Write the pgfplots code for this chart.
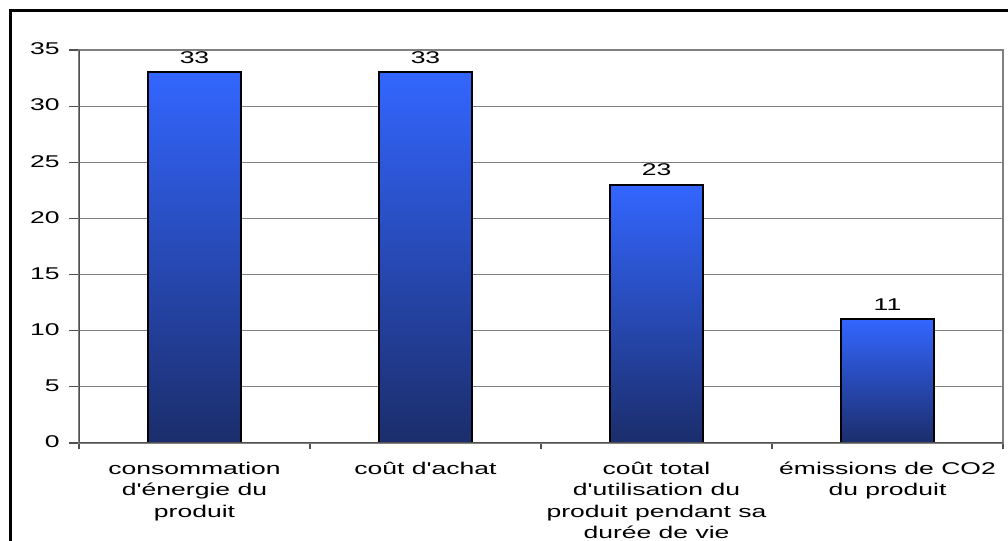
\documentclass[border=0pt]{standalone}
\usepackage{fontspec}
\setmainfont{Liberation Sans}[FakeStretch=1.56,Ligatures=TeXOff]
\usepackage{pgfplots}
\pgfplotsset{compat=1.18}
\definecolor{barTop}{HTML}{3366FF}
\definecolor{barMid}{HTML}{2C52D2}
\definecolor{barBot}{HTML}{1B2D6B}
\definecolor{gridC}{HTML}{808080}
\definecolor{axC}{HTML}{505050}
\tikzset{gbar/.style={draw=black,line width=1pt,bar shift=0pt,
  top color=barTop,middle color=barMid,bottom color=barBot}}

\begin{document}
\begin{tikzpicture}
\useasboundingbox (0,0) rectangle (504pt,270.5pt);
% outer frame (only top and left visible)
\draw[line width=1.5pt] (5pt,-1pt) -- (5pt,265pt) -- (506pt,265pt);
\begin{axis}[at={(39.5pt,49pt)},anchor=south west,scale only axis,
    width=462pt,height=196.5pt,
    ybar,bar width=46.5pt,
    xmin=-0.5,xmax=3.5,ymin=0,ymax=35,
    ytick={0,5,...,35},
    ymajorgrids,grid style={gridC,line width=0.6pt},
    axis line style={gridC,line width=0.7pt},
    tick align=outside,major tick length=5pt,minor tick length=3pt,
    tick style={axC,line width=0.6pt},
    xtick pos=bottom,ytick pos=left,
    xtick={0,1,2,3},
    every major x tick/.append style={draw=none},
    minor xtick={-0.5,0.5,1.5,2.5,3.5},
    xticklabels={{consommation\\d'énergie du\\produit},{coût d'achat},
      {coût total\\d'utilisation du\\produit pendant sa\\durée de vie},
      {émissions de CO2\\du produit}},
    tick label style={font=\fontsize{8.5}{10.7}\selectfont},
    xticklabel style={align=center,anchor=north,yshift=-1pt},
    yticklabel style={anchor=east,inner sep=0pt,xshift=-4.5pt,yshift=0.5pt},
    /pgf/number format/assume math mode=true,
    nodes near coords,
    every node near coord/.append style={font=\fontsize{8.5}{10.7}\selectfont,black,yshift=0.5pt},
  ]
\addplot[gbar] coordinates {(0,33)};
\addplot[gbar] coordinates {(1,33)};
\addplot[gbar] coordinates {(2,23)};
\addplot[gbar] coordinates {(3,11)};
\draw[axC,line width=0.8pt] (rel axis cs:0,1) -- (rel axis cs:0,0) -- (rel axis cs:1,0);
\end{axis}
\end{tikzpicture}
\end{document}
